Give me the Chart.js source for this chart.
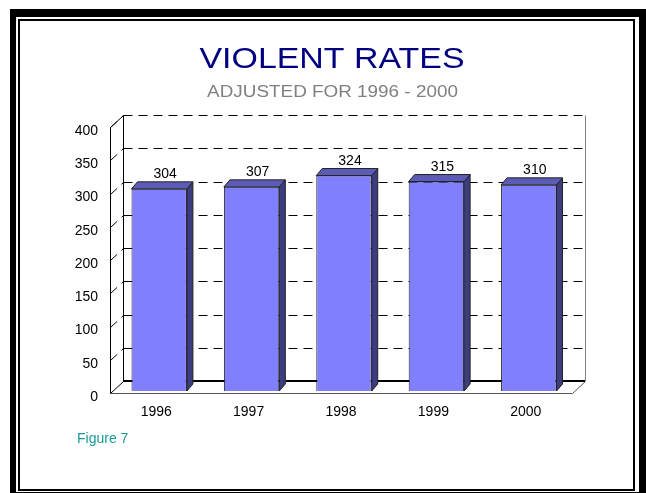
<!DOCTYPE html>
<html>
<head>
<meta charset="utf-8">
<script src="https://cdn.jsdelivr.net/npm/chart.js@4.4.0/dist/chart.umd.min.js"></script>
<style>
  html, body { margin: 0; padding: 0; background: #fff; }
  #wrap { width: 646px; height: 493px; }
</style>
</head>
<body>
<div id="wrap"><canvas id="violentChart" width="646" height="493"></canvas></div>
<script>
// violent rates, adjusted
var years = ['1996', '1997', '1998', '1999', '2000'];
var violentRates = [304, 307, 324, 315, 310];
var rateMin = 0;
var rateMax = 400;
var rateStep = 50;

var titleText = 'VIOLENT RATES';
var subtitleText = 'ADJUSTED FOR 1996 - 2000';
var figureText = 'Figure 7';

var FONT = '"Liberation Sans", Arial, sans-serif';

// 3d look: front plane sits a bit in front of the bars, back wall further back
var FRONT = { dx: -3, dy: 2 };
var BACK = { dx: 10, dy: -10 };
var BAR_DEPTH = { dx: 6, dy: 7 };

function crisp(v) { return Math.round(v) + 0.5; }

function line(ctx, x1, y1, x2, y2) {
    ctx.beginPath();
    ctx.moveTo(x1, y1);
    ctx.lineTo(x2, y2);
    ctx.stroke();
}

var framePlugin = {
    id: 'frame',
    beforeDraw: function (chart) {
        var ctx = chart.ctx;
        var w = chart.width, h = chart.height;
        ctx.save();
        ctx.fillStyle = '#fff';
        ctx.fillRect(0, 0, w, h);
        // double border
        ctx.fillStyle = '#000';
        ctx.fillRect(10, 9, w - 10, h - 9);
        ctx.fillStyle = '#fff';
        ctx.fillRect(16, 17, 623, 475);
        ctx.strokeStyle = '#000';
        ctx.lineWidth = 2;
        ctx.strokeRect(19, 20, 615, 470);

        // headings (stretched a little wider than the plain font)
        ctx.textAlign = 'center';
        ctx.textBaseline = 'alphabetic';
        ctx.save();
        ctx.translate(332, 68);
        ctx.scale(1.13, 1);
        ctx.fillStyle = '#000080';
        ctx.font = '30px ' + FONT;
        ctx.fillText(titleText, 0, 0);
        ctx.restore();

        ctx.save();
        ctx.translate(332.5, 97);
        ctx.scale(1.18, 1);
        ctx.fillStyle = '#808080';
        ctx.font = '16px ' + FONT;
        ctx.fillText(subtitleText, 0, 0);
        ctx.restore();

        ctx.textAlign = 'left';
        ctx.fillStyle = '#199a9a';
        ctx.font = '14px ' + FONT;
        ctx.fillText(figureText, 77, 443);
        ctx.restore();
    }
};

var boxPlugin = {
    id: 'box3d',
    beforeDatasetsDraw: function (chart) {
        var ctx = chart.ctx;
        var a = chart.chartArea;
        var ys = chart.scales.y;
        var fl = a.left + FRONT.dx, fr = a.right + FRONT.dx, fb = a.bottom + FRONT.dy;
        var bl = a.left + BACK.dx, br = a.right + BACK.dx, bb = a.bottom + BACK.dy;
        var topPx = ys.getPixelForValue(rateMax);
        var ft = topPx + FRONT.dy, bt = topPx + BACK.dy;

        ctx.save();
        ctx.lineWidth = 1;

        // dashed grid on back wall and left wall
        ctx.strokeStyle = '#000';
        ctx.setLineDash([9, 6]);
        for (var v = rateMin + rateStep; v <= rateMax; v += rateStep) {
            var p = ys.getPixelForValue(v);
            line(ctx, crisp(bl), crisp(p + BACK.dy), br, crisp(p + BACK.dy));
            line(ctx, crisp(fl), crisp(p + FRONT.dy), crisp(bl), crisp(p + BACK.dy));
        }
        ctx.setLineDash([]);

        // back wall edges
        ctx.strokeStyle = '#000';
        line(ctx, crisp(bl), bb, crisp(bl), crisp(bt));
        ctx.strokeStyle = '#808080';
        line(ctx, crisp(br), bb, crisp(br), crisp(bt));

        // front axis + left wall top
        ctx.strokeStyle = '#000';
        line(ctx, crisp(fl), crisp(fb), crisp(fl), crisp(ft));
        line(ctx, crisp(fl), crisp(ft), crisp(bl), crisp(bt));

        // floor
        line(ctx, crisp(fl), crisp(fb), crisp(bl), crisp(bb));
        ctx.strokeStyle = '#555';
        line(ctx, crisp(fl), crisp(fb), crisp(fr), crisp(fb));
        line(ctx, crisp(fr), crisp(fb), crisp(br), crisp(bb));
        ctx.strokeStyle = '#000';
        ctx.lineWidth = 2;
        line(ctx, bl, Math.round(bb), br, Math.round(bb));
        ctx.restore();
    },
    afterDatasetsDraw: function (chart) {
        var ctx = chart.ctx;
        var meta = chart.getDatasetMeta(0);
        var d = BAR_DEPTH;
        ctx.save();
        ctx.lineWidth = 1;
        ctx.strokeStyle = '#222';
        ctx.lineJoin = 'round';
        meta.data.forEach(function (bar, i) {
            var p = bar.getProps(['x', 'y', 'base', 'width'], true);
            var x1 = p.x - p.width / 2, x2 = p.x + p.width / 2;
            var yt = p.y, yb = p.base;

            // right side
            ctx.fillStyle = '#3c3c80';
            ctx.beginPath();
            ctx.moveTo(x2, yt);
            ctx.lineTo(x2 + d.dx, yt - d.dy);
            ctx.lineTo(x2 + d.dx, yb - d.dy);
            ctx.lineTo(x2, yb);
            ctx.closePath();
            ctx.fill();
            ctx.stroke();

            // top
            ctx.fillStyle = '#5c5cb8';
            ctx.beginPath();
            ctx.moveTo(x1, yt);
            ctx.lineTo(x1 + d.dx, yt - d.dy);
            ctx.lineTo(x2 + d.dx, yt - d.dy);
            ctx.lineTo(x2, yt);
            ctx.closePath();
            ctx.fill();
            ctx.stroke();

            // value above the bar
            ctx.fillStyle = '#000';
            ctx.font = '14px ' + FONT;
            ctx.textAlign = 'center';
            ctx.textBaseline = 'alphabetic';
            ctx.fillText(String(violentRates[i]), p.x + 6, yt - 11);
        });
        ctx.restore();
    }
};

var ctx = document.getElementById('violentChart');
var chart = new Chart(ctx, {
    type: 'bar',
    data: {
        labels: years,
        datasets: [{
            label: 'Violent rate',
            data: violentRates,
            backgroundColor: '#8080ff',
            borderColor: '#222',
            borderWidth: 1,
            barPercentage: 0.6,
            categoryPercentage: 1.0
        }]
    },
    options: {
        responsive: false,
        animation: false,
        layout: { padding: { top: 125, right: 71, left: 0, bottom: 0 } },
        plugins: {
            legend: { display: false },
            tooltip: { enabled: false }
        },
        scales: {
            x: {
                grid: { display: false, drawTicks: false },
                border: { display: false },
                ticks: {
                    color: '#000',
                    font: { family: FONT, size: 14 },
                    padding: 13,
                    labelOffset: -3,
                    maxRotation: 0
                },
                afterFit: function (scale) { scale.height = 102; }
            },
            y: {
                min: rateMin,
                max: rateMax,
                grid: { display: false, drawTicks: false },
                border: { display: false },
                ticks: {
                    stepSize: rateStep,
                    color: '#000',
                    font: { family: FONT, size: 14 },
                    padding: 15,
                    labelOffset: 6
                },
                afterFit: function (scale) { scale.width = 113; }
            }
        }
    },
    plugins: [framePlugin, boxPlugin]
});
</script>
</body>
</html>
